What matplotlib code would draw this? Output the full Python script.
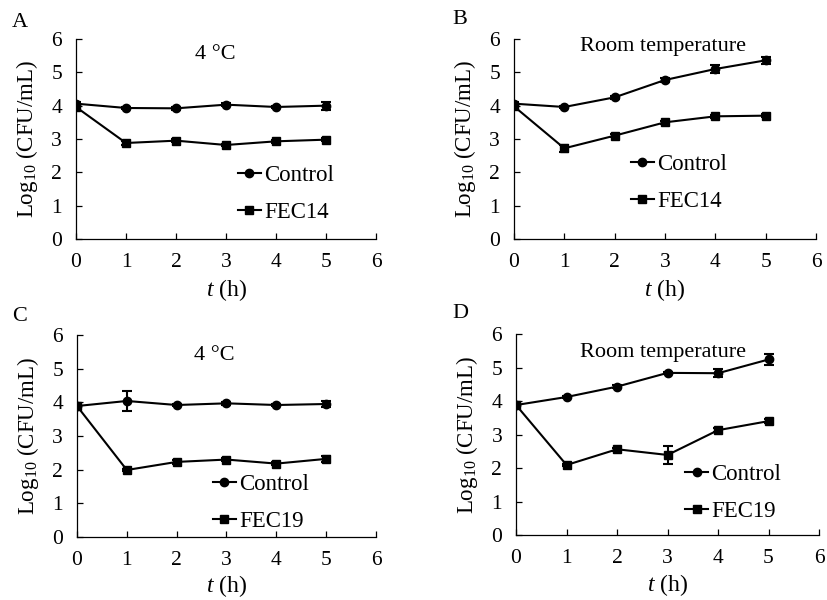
import matplotlib.pyplot as plt

plt.rcParams['font.family'] = ['Liberation Serif', 'DejaVu Serif']
plt.rcParams['mathtext.fontset'] = 'custom'
plt.rcParams['mathtext.rm'] = 'Liberation Serif'
plt.rcParams['mathtext.it'] = 'Liberation Serif:italic'

hours = [0, 1, 2, 3, 4, 5]

# A: 4 °C, FEC14
a_ctrl = [4.06, 3.93, 3.92, 4.03, 3.96, 4.00]
a_ctrl_err = [0.05, 0.04, 0.04, 0.04, 0.04, 0.12]
a_phage = [3.96, 2.88, 2.95, 2.82, 2.93, 2.98]
a_phage_err = [0.04, 0.05, 0.04, 0.04, 0.04, 0.05]

# B: room temperature, FEC14
b_ctrl = [4.06, 3.96, 4.25, 4.77, 5.10, 5.36]
b_ctrl_err = [0.04, 0.04, 0.04, 0.05, 0.12, 0.10]
b_phage = [3.98, 2.72, 3.10, 3.50, 3.68, 3.70]
b_phage_err = [0.05, 0.10, 0.04, 0.05, 0.04, 0.04]

# C: 4 °C, FEC19
c_ctrl = [3.89, 4.04, 3.92, 3.97, 3.92, 3.95]
c_ctrl_err = [0.04, 0.30, 0.04, 0.04, 0.04, 0.10]
c_phage = [3.89, 1.99, 2.23, 2.30, 2.18, 2.32]
c_phage_err = [0.04, 0.04, 0.05, 0.05, 0.05, 0.08]

# D: room temperature, FEC19
d_ctrl = [3.88, 4.12, 4.43, 4.84, 4.83, 5.24]
d_ctrl_err = [0.04, 0.04, 0.04, 0.04, 0.12, 0.15]
d_phage = [3.88, 2.09, 2.56, 2.39, 3.13, 3.40]
d_phage_err = [0.04, 0.04, 0.05, 0.28, 0.05, 0.05]

panels = [
    ('A', '4 °C', 'FEC14', a_ctrl, a_ctrl_err, a_phage, a_phage_err),
    ('B', 'Room temperature', 'FEC14', b_ctrl, b_ctrl_err, b_phage, b_phage_err),
    ('C', '4 °C', 'FEC19', c_ctrl, c_ctrl_err, c_phage, c_phage_err),
    ('D', 'Room temperature', 'FEC19', d_ctrl, d_ctrl_err, d_phage, d_phage_err),
]

# axes rects in figure fractions
rects = [
    [0.0919, 0.6017, 0.3628, 0.3333],
    [0.6215, 0.6017, 0.3652, 0.3333],
    [0.0931, 0.1050, 0.3615, 0.3367],
    [0.6240, 0.1083, 0.3664, 0.3350],
]
legend_pos = [(0.54, 0.225), (0.387, 0.278), (0.455, 0.167), (0.558, 0.207)]
note_pos = [(0.463, 0.92), (0.493, 0.96), (0.46, 0.90), (0.485, 0.91)]
letter_pos = [(0.0145, 0.963), (0.547, 0.967), (0.0145, 0.473), (0.547, 0.478)]
xlabel_y = [-0.19, -0.19, -0.18, -0.185]

fig = plt.figure(figsize=(8.27, 6.0), dpi=100)

for i, (letter, note, phage, ctrl, ctrl_err, ph, ph_err) in enumerate(panels):
    ax = fig.add_axes(rects[i])
    ax.errorbar(hours, ctrl, yerr=ctrl_err, fmt='none', ecolor='black',
                capsize=3.5, elinewidth=1.5, capthick=1.5)
    ax.errorbar(hours, ph, yerr=ph_err, fmt='none', ecolor='black',
                capsize=3.5, elinewidth=1.5, capthick=1.5)
    ax.plot(hours, ctrl, color='black', lw=1.5, marker='o', ms=6, label='Control')
    ax.plot(hours, ph, color='black', lw=1.5, marker='s', ms=5.5, label=phage)
    ax.set_xlim(0, 6)
    ax.set_ylim(0, 6)
    ax.set_xticks(range(7))
    ax.set_yticks(range(7))
    ax.spines['top'].set_visible(False)
    ax.spines['right'].set_visible(False)
    ax.spines['left'].set_linewidth(0.9)
    ax.spines['bottom'].set_linewidth(0.9)
    ax.tick_params(direction='in', length=4, width=0.9, labelsize=15.5)
    ax.tick_params(axis='y', pad=10)
    ax.tick_params(axis='x', pad=10)
    ax.set_ylabel(r'Log$_{10}$ (CFU/mL)', fontsize=16.5)
    ax.set_xlabel(r'$t$ (h)', fontsize=17)
    ax.yaxis.set_label_coords(-0.12, 0.5)
    ax.xaxis.set_label_coords(0.5, xlabel_y[i])
    ax.text(note_pos[i][0], note_pos[i][1], note, transform=ax.transAxes,
            ha='center', va='center', fontsize=16)
    ax.legend(loc='center left', bbox_to_anchor=legend_pos[i], frameon=False,
              fontsize=16.5, handlelength=1.0, handletextpad=0.15, labelspacing=0.7,
              borderpad=0, borderaxespad=0)
    fig.text(letter_pos[i][0], letter_pos[i][1], letter, fontsize=16,
             ha='left', va='center')

fig.savefig('out.png', dpi=100)
